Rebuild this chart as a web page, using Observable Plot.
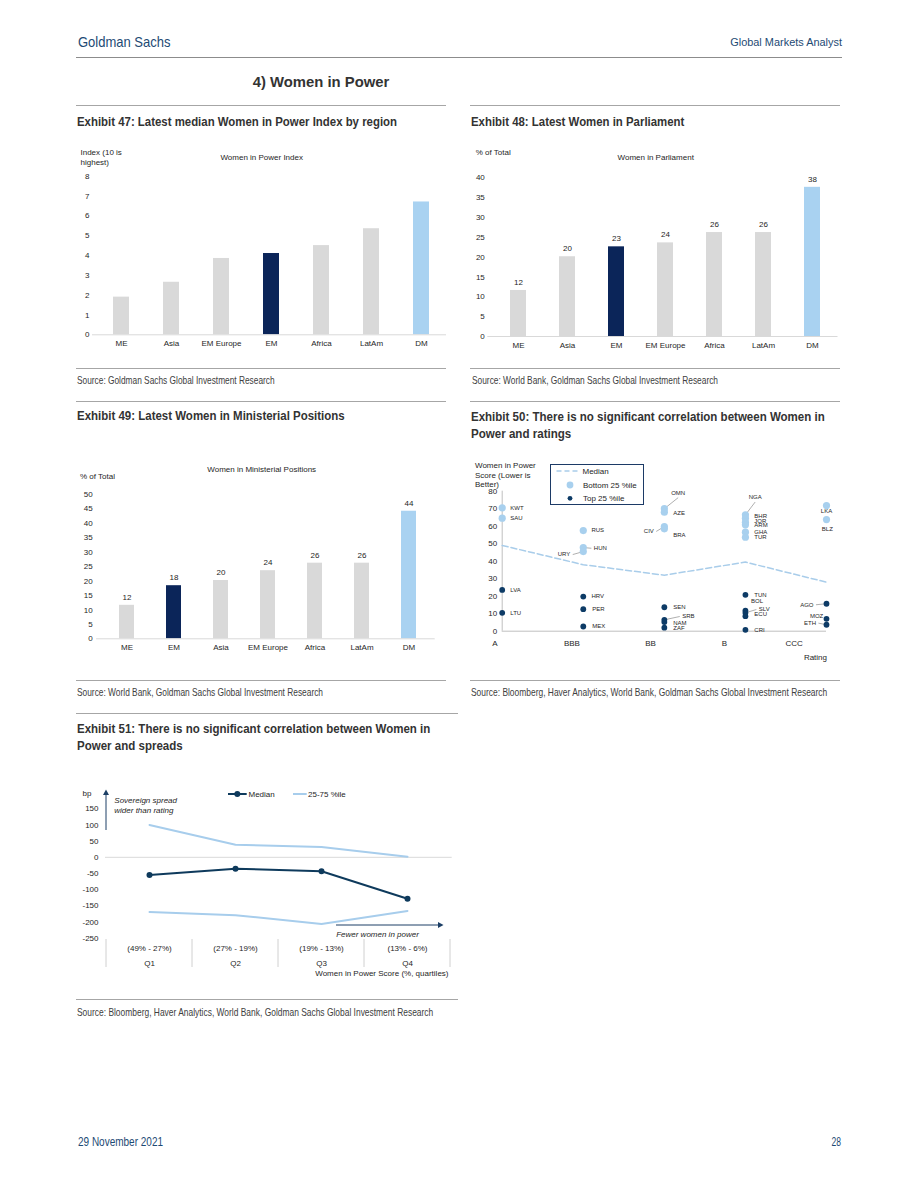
<!DOCTYPE html>
<html><head><meta charset="utf-8">
<script src="https://cdn.jsdelivr.net/npm/d3@7"></script>
<script src="https://cdn.jsdelivr.net/npm/@observablehq/plot@0.6"></script>
<style>
html,body{margin:0;padding:0;background:#fff;}
#page{position:relative;width:918px;height:1188px;overflow:hidden;background:#fff;}
.t{position:absolute;white-space:nowrap;line-height:1;}
.rule{position:absolute;height:0;border-top:1px solid #a6a6a6;}
.chart{position:absolute;}
.chart svg{display:block;overflow:visible;}
</style></head><body><div id="page"></div>
<script>
// ---------------- DATA ----------------
// Exhibit 47
const ex47Regions = ["ME", "Asia", "EM Europe", "EM", "Africa", "LatAm", "DM"];
const ex47Index = [1.9, 2.65, 3.85, 4.1, 4.5, 5.35, 6.7];
// Exhibit 48
const ex48Regions = ["ME", "Asia", "EM", "EM Europe", "Africa", "LatAm", "DM"];
const ex48Share = [11.6, 20.1, 22.6, 23.6, 26.2, 26.2, 37.6];
// Exhibit 49
const ex49Regions = ["ME", "EM", "Asia", "EM Europe", "Africa", "LatAm", "DM"];
const ex49Share = [11.6, 18.4, 20.2, 23.6, 26.2, 26.2, 44.2];
// Exhibit 50
const ratingLabels = ["A", "BBB", "BB", "B", "CCC"];
const ratingTickPos = [0.91, 1.86, 2.83, 3.74, 4.6];
const ratingIndex = [1, 2, 3, 4, 5];
const medianScore = [49, 38, 32, 39.5, 28];
const countries = ["KWT","SAU","LVA","LTU","RUS","HUN","URY","HRV","PER","MEX","OMN","AZE","CIV","BRA","SEN","SRB","NAM","ZAF","NGA","BHR","JOR","ARM","GHA","TUR","TUN","BOL","SLV","ECU","CRI","LKA","BLZ","AGO","MOZ","ETH"];
const countryRating = [1,1,1,1,2,2,2,2,2,2,3,3,3,3,3,3,3,3,4,4,4,4,4,4,4,4,4,4,4,5,5,5,5,5];
const countryScore = [70.5,64.6,23.6,10.5,57.5,47.8,45.5,19.8,12.6,2.7,70,68,59.8,58.5,13.7,6.5,5.2,2.0,66.5,64.6,62.3,60.8,56.6,53.7,20.8,11.8,10.5,8.6,0.8,71.8,63.8,15.7,7.1,3.7];
const countryGroup = ["B","B","T","T","B","B","B","T","T","T","B","B","B","B","T","T","T","T","B","B","B","B","B","B","T","T","T","T","T","B","B","T","T","T"];
// label placement (data units) for the scatter annotations
const labelRating = [1.10,1.10,1.10,1.10,2.10,2.13,1.84,2.10,2.11,2.11,3.17,3.11,2.87,3.11,3.11,3.22,3.11,3.11,4.12,4.11,4.11,4.11,4.11,4.11,4.11,4.07,4.165,4.11,4.11,5.0,5.01,4.84,4.96,4.87];
const labelScore = [70.5,64.6,23.6,10.5,57.5,47.4,43.8,19.8,12.6,2.7,78.9,67.4,57,54.7,13.7,8.4,4.6,1.7,76.4,65.5,62.9,60.6,56.6,53.7,20.4,17.4,12.4,9.5,0.6,68.4,58.3,15.1,8.4,4.6];
const labelSide = ["s","s","s","s","s","s","e","s","s","s","m","s","e","s","s","s","s","s","m","s","s","s","s","s","s","s","s","s","s","m","m","e","e","e"];
const labelLeader = [0,0,0,0,0,1,1,0,0,0,1,0,1,0,0,1,0,0,1,0,0,0,0,0,0,0,1,0,0,0,0,1,0,1];
// Exhibit 51
const quartiles = ["Q1", "Q2", "Q3", "Q4"];
const quartileRanges = ["(49% - 27%)", "(27% - 19%)", "(19% - 13%)", "(13% - 6%)"];
const spreadMedian = [-55, -35, -43, -128];
const spreadP75 = [100, 39, 32, 2];
const spreadP25 = [-169, -179, -206, -166];

// ---------------- STYLE ----------------
const NAVY = "#0b2559", LBLUE = "#a9d2f1", GRAY = "#d9d9d9";
const SC_LIGHT = "#a8d0ee", SC_DARK = "#0d3b66";
const GS_BLUE = "#1d4a74";
const ARIAL = '"Liberation Sans", Arial, sans-serif';
const plotStyle = {fontFamily: ARIAL, fontSize: "8px", color: "#262626", background: "transparent", overflow: "visible"};

const page = document.getElementById("page");
const mctx = document.createElement("canvas").getContext("2d");
function measure(s, font) { mctx.font = font; return mctx.measureText(s).width; }
function txt(s, x, y, o = {}) {
  const d = document.createElement("div");
  d.className = "t";
  d.textContent = s;
  const size = o.size || 8, weight = o.weight || 400, style = o.italic ? "italic" : "normal";
  const a = o.anchor === "end" ? "-100%" : o.anchor === "middle" ? "-50%" : "0";
  const k = o.fit ? o.fit / measure(s, `${style} ${weight} ${size}px "Liberation Sans", Arial, sans-serif`) : 1;
  Object.assign(d.style, {
    left: x + "px", top: y + "px",
    fontFamily: ARIAL, fontSize: size + "px",
    fontWeight: weight, fontStyle: style,
    color: o.color || "#262626",
    transformOrigin: o.anchor === "end" ? "100% 50%" : o.anchor === "middle" ? "50% 50%" : "0 50%",
    transform: `translate(${a}, -50%) scaleX(${k})`
  });
  page.appendChild(d);
}
function rule(x1, x2, y, color) {
  const d = document.createElement("div");
  d.className = "rule";
  Object.assign(d.style, {left: x1 + "px", top: y + "px", width: (x2 - x1) + "px"});
  if (color) d.style.borderTopColor = color;
  page.appendChild(d);
}
function place(svg, left, top) {
  const w = document.createElement("div");
  w.className = "chart";
  w.style.left = left + "px"; w.style.top = top + "px";
  w.appendChild(svg);
  page.appendChild(w);
  return svg;
}
const barColor = r => r === "EM" ? NAVY : r === "DM" ? LBLUE : GRAY;
const H = {size: 13.5, weight: 700, color: "#333"};
const SRC = {size: 11, color: "#404040"};

// ---------------- PAGE TEXT ----------------
txt("Goldman Sachs", 77.5, 41, {size: 15, color: GS_BLUE, fit: 92.5});
txt("Global Markets Analyst", 841.7, 43, {size: 11.5, color: GS_BLUE, anchor: "end", fit: 112.4});
rule(76, 842, 57, "#8c8c8c");
txt("4) Women in Power", 321, 82, {size: 14, weight: 700, color: "#333", anchor: "middle", fit: 136.6});
rule(76, 446, 105); rule(470, 840, 105);
txt("Exhibit 47: Latest median Women in Power Index by region", 76.7, 121.5, {...H, fit: 320});
txt("Exhibit 48: Latest Women in Parliament", 470.7, 121.5, {...H, fit: 213.3});
rule(76, 446, 368); rule(470, 840, 368);
txt("Source: Goldman Sachs Global Investment Research", 76.7, 380, {...SRC, fit: 197.6});
txt("Source: World Bank, Goldman Sachs Global Investment Research", 471.7, 380, {...SRC, fit: 246});
rule(76, 446, 401); rule(470, 840, 401);
txt("Exhibit 49: Latest Women in Ministerial Positions", 76.7, 416, {...H, fit: 267.7});
txt("Exhibit 50: There is no significant correlation between Women in", 470.7, 416.5, {...H, fit: 353.7});
txt("Power and ratings", 470.7, 434, {...H, fit: 100.3});
rule(76, 446, 680); rule(470, 840, 680);
txt("Source: World Bank, Goldman Sachs Global Investment Research", 76.7, 692, {...SRC, fit: 246});
txt("Source: Bloomberg, Haver Analytics, World Bank, Goldman Sachs Global Investment Research", 470.7, 692, {...SRC, fit: 356.7});
rule(76, 458, 713);
txt("Exhibit 51: There is no significant correlation between Women in", 76.7, 729, {...H, fit: 353.3});
txt("Power and spreads", 76.7, 746, {...H, fit: 105.7});
rule(76, 458, 999);
txt("Source: Bloomberg, Haver Analytics, World Bank, Goldman Sachs Global Investment Research", 76.7, 1011.5, {...SRC, fit: 356.7});
txt("29 November 2021", 78, 1142, {size: 12, color: GS_BLUE, fit: 85});
txt("28", 841, 1142, {size: 12, color: GS_BLUE, anchor: "end", fit: 9.5});

// ---------------- EXHIBIT 47 ----------------
txt("Index (10 is", 80.5, 153.3);
txt("highest)", 80.5, 162.5);
txt("Women in Power Index", 261.7, 158.3, {anchor: "middle"});
const rows47 = ex47Regions.map((r, i) => ({region: r, value: ex47Index[i]}));
place(Plot.plot({
  width: 380, height: 230, marginLeft: 20, marginRight: 10, marginTop: 35.7, marginBottom: 35.7,
  style: plotStyle,
  color: {type: "identity"},
  x: {domain: ex47Regions, paddingInner: 0.68, paddingOuter: 0.34, tickSize: 0, tickPadding: 6, label: null},
  y: {domain: [0, 8], ticks: d3.range(0, 9, 1), tickSize: 0, tickPadding: 7, label: null},
  marks: [
    Plot.barY(rows47, {x: "region", y: "value", fill: d => barColor(d.region)}),
    Plot.ruleY([0], {stroke: GRAY, insetLeft: -4})
  ]
}), 76, 140);

// ---------------- EXHIBIT 48 ----------------
txt("% of Total", 475.7, 153.3);
txt("Women in Parliament", 655.7, 158.3, {anchor: "middle"});
const rows48 = ex48Regions.map((r, i) => ({region: r, value: ex48Share[i]}));
place(Plot.plot({
  width: 380, height: 230, marginLeft: 21.3, marginRight: 12.5, marginTop: 37.3, marginBottom: 34,
  style: plotStyle,
  color: {type: "identity"},
  x: {domain: ex48Regions, paddingInner: 0.68, paddingOuter: 0.34, tickSize: 0, tickPadding: 6, label: null},
  y: {domain: [0, 40], ticks: d3.range(0, 41, 5), tickSize: 0, tickPadding: 7, label: null},
  marks: [
    Plot.barY(rows48, {x: "region", y: "value", fill: d => barColor(d.region)}),
    Plot.ruleY([0], {stroke: GRAY, insetLeft: -4}),
    Plot.text(rows48, {x: "region", y: "value", text: d => String(Math.round(d.value)), dy: -8, fill: "#262626"})
  ]
}), 470, 140);

// ---------------- EXHIBIT 49 ----------------
txt("Women in Ministerial Positions", 261.7, 470, {anchor: "middle"});
txt("% of Total", 80, 477);
const rows49 = ex49Regions.map((r, i) => ({region: r, value: ex49Share[i]}));
place(Plot.plot({
  width: 380, height: 215, marginLeft: 24.1, marginRight: 21.3, marginTop: 39, marginBottom: 31.7,
  style: plotStyle,
  color: {type: "identity"},
  x: {domain: ex49Regions, paddingInner: 0.68, paddingOuter: 0.34, tickSize: 0, tickPadding: 6, label: null},
  y: {domain: [0, 50], ticks: d3.range(0, 51, 5), tickSize: 0, tickPadding: 8, label: null},
  marks: [
    Plot.barY(rows49, {x: "region", y: "value", fill: d => barColor(d.region)}),
    Plot.ruleY([0], {stroke: GRAY, insetLeft: -4}),
    Plot.text(rows49, {x: "region", y: "value", text: d => String(Math.round(d.value)), dy: -8, fill: "#262626"})
  ]
}), 76, 455);

// ---------------- EXHIBIT 50 ----------------
txt("Women in Power", 475, 466);
txt("Score (Lower is", 475, 475.5);
txt("Better)", 475, 485);
txt("Rating", 827, 658, {anchor: "end"});
const pts = countries.map((c, i) => ({
  code: c, rating: countryRating[i], score: countryScore[i], group: countryGroup[i],
  lx: labelRating[i], ly: labelScore[i], side: labelSide[i], leader: labelLeader[i]
}));
const leaders = pts.filter(d => d.leader).map(d => ({
  x1: d.rating, y1: d.score,
  x2: d.side === "s" ? d.lx - 0.03 : d.side === "e" ? d.lx + 0.03 : d.lx,
  y2: d.side === "m" ? d.ly - 2.6 : d.ly
}));
const medRows = ratingIndex.map((r, i) => ({rating: r, score: medianScore[i]}));
place(Plot.plot({
  width: 380, height: 215, marginLeft: 31.7, marginRight: 24, marginTop: 35.7, marginBottom: 39.3,
  style: plotStyle,
  x: {domain: [1, 5], axis: null},
  y: {domain: [0, 80], ticks: d3.range(0, 81, 10), tickSize: 0, tickPadding: 5, label: null},
  marks: [
    Plot.axisX(ratingTickPos, {tickFormat: d => ratingLabels[ratingTickPos.indexOf(d)], tickSize: 0, tickPadding: 9.5, label: null, fontSize: 8}),
    Plot.ruleY([0], {stroke: "#bfbfbf"}),
    Plot.ruleX([1], {stroke: "#bfbfbf"}),
    Plot.line(medRows, {x: "rating", y: "score", stroke: "#a9cdea", strokeWidth: 1.5, strokeDasharray: "6,3"}),
    Plot.link(leaders, {x1: "x1", y1: "y1", x2: "x2", y2: "y2", stroke: "#8c8c8c", strokeWidth: 0.7}),
    Plot.dot(pts.filter(d => d.group === "B"), {x: "rating", y: "score", r: 3.6, fill: SC_LIGHT}),
    Plot.dot(pts.filter(d => d.group === "T"), {x: "rating", y: "score", r: 2.9, fill: SC_DARK}),
    Plot.text(pts.filter(d => d.side === "s"), {x: "lx", y: "ly", text: "code", textAnchor: "start", fontSize: 6, fill: "#262626"}),
    Plot.text(pts.filter(d => d.side === "e"), {x: "lx", y: "ly", text: "code", textAnchor: "end", fontSize: 6, fill: "#262626"}),
    Plot.text(pts.filter(d => d.side === "m"), {x: "lx", y: "ly", text: "code", textAnchor: "middle", fontSize: 6, fill: "#262626"})
  ]
}), 470, 455);
// legend box
(function () {
  const box = document.createElement("div");
  Object.assign(box.style, {position: "absolute", left: "550px", top: "464px", width: "94px", height: "41px", border: "1px solid #1c3a66", boxSizing: "border-box", background: "#fff"});
  box.innerHTML = `<svg width="94" height="41" style="display:block;position:absolute;left:-1px;top:-1px;font-family:'Liberation Sans',Arial,sans-serif;font-size:8px">
    <line x1="6.5" x2="30" y1="7" y2="7" stroke="#a9cdea" stroke-width="1.5" stroke-dasharray="5,3"/>
    <text x="32.5" y="7" dy="0.35em" fill="#262626">Median</text>
    <circle cx="20" cy="21" r="3.4" fill="${SC_LIGHT}"/>
    <text x="33" y="21" dy="0.35em" fill="#262626">Bottom 25 %ile</text>
    <circle cx="20" cy="34.3" r="2.4" fill="${SC_DARK}"/>
    <text x="33" y="34.3" dy="0.35em" fill="#262626">Top 25 %ile</text>
  </svg>`;
  page.appendChild(box);
})();

// ---------------- EXHIBIT 51 ----------------
const rows51 = quartiles.map((q, i) => ({q, range: quartileRanges[i], med: spreadMedian[i], p75: spreadP75[i], p25: spreadP25[i]}));
const p51 = Plot.plot({
  width: 382, height: 200, marginLeft: 29, marginRight: 6.3, marginTop: 28.3, marginBottom: 42.3,
  style: plotStyle,
  x: {type: "band", domain: quartiles, padding: 0, axis: null},
  y: {domain: [-250, 150], axis: null},
  marks: [
    Plot.axisY({ticks: d3.range(-250, 151, 50), tickFormat: d => String(d), tickSize: 0, tickPadding: 7, label: null}),
    Plot.axisX({tickFormat: d => quartileRanges[quartiles.indexOf(d)], tickSize: 0, tickPadding: 7, label: null}),
    Plot.axisX({tickFormat: d => d, tickSize: 0, tickPadding: 22, label: null}),
    Plot.ruleY([0], {stroke: "#d9d9d9"}),
    Plot.line(rows51, {x: "q", y: "p75", stroke: "#a7cdec", strokeWidth: 2}),
    Plot.line(rows51, {x: "q", y: "p25", stroke: "#a7cdec", strokeWidth: 2}),
    Plot.line(rows51, {x: "q", y: "med", stroke: "#0e3a5c", strokeWidth: 2}),
    Plot.dot(rows51, {x: "q", y: "med", r: 3, fill: "#0e3a5c"})
  ]
});
place(p51, 76, 780);
(function () {
  const svg = d3.select(p51);
  const xs = p51.scale("x");
  const edges = quartiles.map(q => xs.apply(q)).concat([xs.apply("Q4") + xs.bandwidth]);
  svg.selectAll("line.sep").data(edges).join("line").attr("class", "sep")
    .attr("x1", d => d).attr("x2", d => d).attr("y1", 159).attr("y2", 187)
    .attr("stroke", "#d0d0d0").attr("stroke-width", 1);
  const ARW = "#1c3f66";
  // up arrow
  svg.append("line").attr("x1", 30).attr("x2", 30).attr("y1", 50).attr("y2", 14).attr("stroke", ARW).attr("stroke-width", 1);
  svg.append("path").attr("d", "M27,15 L30,9.5 L33,15 Z").attr("fill", ARW);
  // right arrow
  svg.append("line").attr("x1", 260).attr("x2", 363).attr("y1", 145).attr("y2", 145).attr("stroke", ARW).attr("stroke-width", 1);
  svg.append("path").attr("d", "M362,142 L367.5,145 L362,148 Z").attr("fill", ARW);
  // legend
  svg.append("line").attr("x1", 152).attr("x2", 170.7).attr("y1", 14).attr("y2", 14).attr("stroke", "#0e3a5c").attr("stroke-width", 2);
  svg.append("circle").attr("cx", 161.3).attr("cy", 14).attr("r", 3).attr("fill", "#0e3a5c");
  svg.append("text").attr("x", 172.5).attr("y", 14).attr("dy", "0.35em").attr("text-anchor", "start").attr("fill", "#262626").text("Median");
  svg.append("line").attr("x1", 217).attr("x2", 230.7).attr("y1", 14).attr("y2", 14).attr("stroke", "#a7cdec").attr("stroke-width", 2);
  svg.append("text").attr("x", 232).attr("y", 14).attr("dy", "0.35em").attr("text-anchor", "start").attr("fill", "#262626").text("25-75 %ile");
})();
txt("bp", 82.5, 794);
txt("Sovereign spread", 114.3, 801, {italic: true});
txt("wider than rating", 114.3, 810.7, {italic: true});
txt("Fewer women in power", 377.5, 935, {italic: true, anchor: "middle"});
txt("Women in Power Score (%, quartiles)", 448.5, 974.3, {anchor: "end"});
</script></body></html>
